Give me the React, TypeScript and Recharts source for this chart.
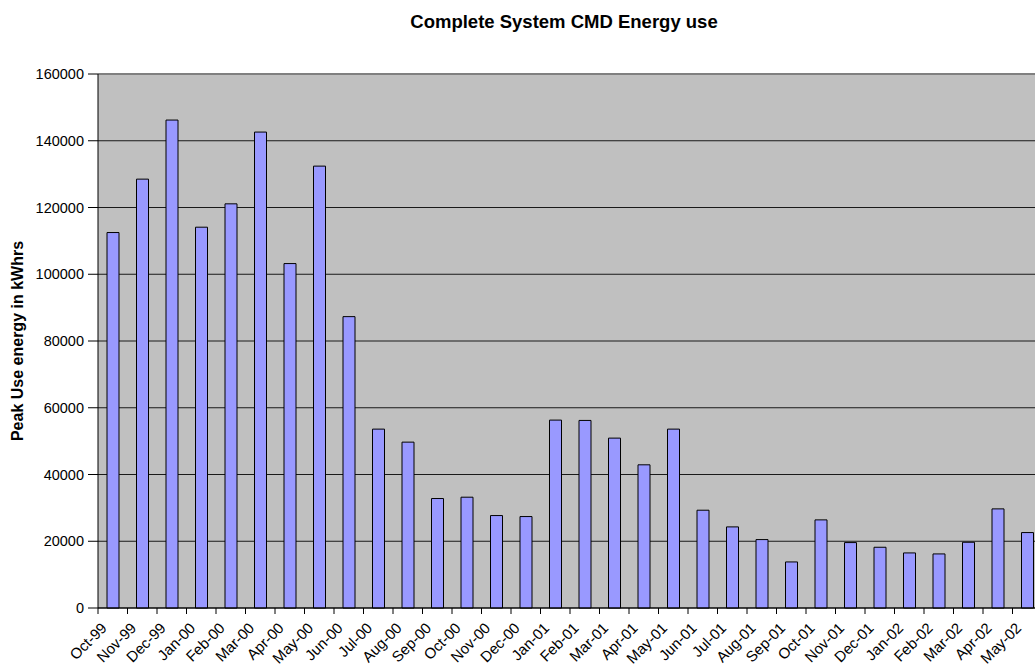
import { BarChart, Bar, XAxis, YAxis, CartesianGrid, ReferenceLine } from 'recharts';

// months shown along the bottom axis
const months = [
  'Oct-99', 'Nov-99', 'Dec-99', 'Jan-00', 'Feb-00', 'Mar-00', 'Apr-00', 'May-00',
  'Jun-00', 'Jul-00', 'Aug-00', 'Sep-00', 'Oct-00', 'Nov-00', 'Dec-00', 'Jan-01',
  'Feb-01', 'Mar-01', 'Apr-01', 'May-01', 'Jun-01', 'Jul-01', 'Aug-01', 'Sep-01',
  'Oct-01', 'Nov-01', 'Dec-01', 'Jan-02', 'Feb-02', 'Mar-02', 'Apr-02', 'May-02',
];

// peak use energy (kWhrs)
const peakUse = [
  112500, 128500, 146200, 114100, 121100, 142600, 103200, 132400,
  87300, 53600, 49700, 32800, 33200, 27700, 27400, 56300,
  56200, 50900, 42900, 53600, 29300, 24300, 20500, 13800,
  26400, 19600, 18200, 16500, 16200, 19700, 29700, 22600,
];

const yTicks = [0, 20000, 40000, 60000, 80000, 100000, 120000, 140000, 160000];

const data = months.map((month, i) => ({ month, value: peakUse[i] }));

const CHART_W = 1052;
const CHART_H = 671;
const Y_AXIS_W = 98;
const MARGIN = { top: 74, right: 10, left: 0, bottom: 0 };
const band = (CHART_W - Y_AXIS_W - MARGIN.left - MARGIN.right) / months.length;

const FONT = 'Arial, "Liberation Sans", Helvetica, sans-serif';

interface TickProps {
  x?: number;
  y?: number;
  payload?: { value: string };
}

// Excel style: tick mark between categories, label slanted at 45 degrees
const MonthTick = ({ x = 0, y = 0, payload }: TickProps) => {
  const edge = x - band / 2;
  const tx = x - 5;
  const ty = y + 21;
  return (
    <g>
      <line x1={edge} y1={y} x2={edge} y2={y + 6} stroke="#000" />
      <text
        x={tx}
        y={ty}
        textAnchor="end"
        fontSize={15}
        fontFamily={FONT}
        fill="#000"
        transform={`rotate(-45, ${tx}, ${ty})`}
      >
        {payload?.value}
      </text>
    </g>
  );
};

export default function App() {
  return (
    <div
      style={{
        position: 'fixed',
        top: 0,
        left: 0,
        width: 1035,
        height: 671,
        overflow: 'hidden',
        background: '#fff',
        fontFamily: FONT,
      }}
    >
      <div
        style={{
          position: 'absolute',
          top: 11,
          left: 314,
          width: 500,
          textAlign: 'center',
          fontSize: 18.5,
          fontWeight: 'bold',
          color: '#000',
        }}
      >
        Complete System CMD Energy use
      </div>
      <BarChart width={CHART_W} height={CHART_H} data={data} margin={MARGIN} barSize={12}>
        <CartesianGrid fill="#C0C0C0" stroke="#1a1a1a" vertical={false} />
        <XAxis
          dataKey="month"
          interval={0}
          height={63}
          tickLine={false}
          tickSize={0}
          tickMargin={0}
          axisLine={{ stroke: '#000' }}
          tick={<MonthTick />}
        />
        <YAxis
          width={Y_AXIS_W}
          domain={[0, 160000]}
          ticks={yTicks}
          interval={0}
          tickSize={10}
          tickMargin={4}
          axisLine={{ stroke: '#000' }}
          tickLine={{ stroke: '#000' }}
          tick={{ fill: '#000', fontSize: 14.5, fontFamily: FONT }}
          label={{
            value: 'Peak Use energy in kWhrs',
            angle: -90,
            position: 'insideLeft',
            offset: 17,
            style: { fontSize: 16, fontWeight: 'bold', fill: '#000', fontFamily: FONT, textAnchor: 'middle' },
          }}
        />
        <ReferenceLine y={160000} stroke="#808080" strokeWidth={2} />
        <Bar dataKey="value" fill="#9999FF" stroke="#000" strokeWidth={1} isAnimationActive={false} />
      </BarChart>
    </div>
  );
}
